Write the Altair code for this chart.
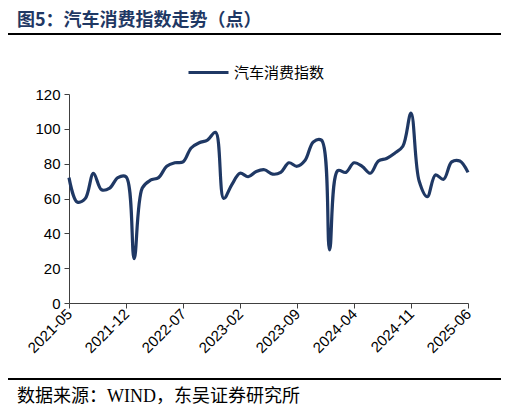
import altair as alt
import pandas as pd

# ---- data ----
all_months = [f"{y}-{m:02d}" for y in range(2021, 2026) for m in range(1, 13)]
months = all_months[all_months.index("2021-05"):all_months.index("2025-06") + 1]

values = [72, 58, 60, 74.5, 65, 66, 72, 72.5,
          25.5, 66, 70.5, 72, 78.5, 80.5, 81, 89, 92, 93.5, 98, 60,
          68, 74.5, 72.5, 75.5, 76.5, 74, 75, 80.5, 78.5, 82, 92.5, 93.5,
          30.5, 76, 75, 80.5, 78.5, 74.5, 81.5, 83, 86, 90, 109, 70,
          61, 73.5, 71, 81, 81.5, 75]

tick_labels = ["2021-05", "2021-12", "2022-07", "2023-02",
               "2023-09", "2024-04", "2024-11", "2025-06"]
y_ticks = [0, 20, 40, 60, 80, 100, 120]
series_name = "汽车消费指数"
title_text = "图5：汽车消费指数走势（点）"
source_text = "数据来源：WIND，东吴证券研究所"

df = pd.DataFrame({"month": months, "value": values, "series": series_name})

NAVY = "#1F3864"
AXIS = "#404040"
CJK = "Noto Sans CJK SC"

line = alt.Chart(df).mark_line(strokeWidth=3.2, interpolate="catmull-rom").encode(
    x=alt.X("month:O", sort=months,
            scale=alt.Scale(type="point", padding=0),
            axis=alt.Axis(values=tick_labels, labelAngle=315, labelAlign="right",
                          labelBaseline="middle", title=None, tickSize=5,
                          labelPadding=3, labelFontSize=15, labelFont="Liberation Sans",
                          labelColor="#000000", domainColor=AXIS, tickColor=AXIS,
                          labelOverlap=False)),
    y=alt.Y("value:Q", scale=alt.Scale(domain=[0, 120], nice=False),
            axis=alt.Axis(values=y_ticks, title=None, grid=False, tickSize=5,
                          labelPadding=4, labelFontSize=15, labelFont="Liberation Sans",
                          labelColor="#000000", domainColor=AXIS, tickColor=AXIS)),
    color=alt.Color("series:N", scale=alt.Scale(range=[NAVY]),
                    legend=alt.Legend(title=None, orient="none", legendX=118, legendY=-43,
                                      symbolType="stroke", symbolSize=1600,
                                      symbolStrokeWidth=3, labelFont=CJK,
                                      labelFontSize=15, labelColor="#000000",
                                      padding=0, labelOffset=4)),
)

one = pd.DataFrame({"t": [title_text], "s": [source_text]})

title = alt.Chart(one).mark_text(align="left", baseline="middle", font=CJK,
                                 fontSize=18, fontWeight="bold", color=NAVY).encode(
    text="t:N", x=alt.value(-52), y=alt.value(-73))

source = alt.Chart(one).mark_text(align="left", baseline="middle",
                                  font="Liberation Serif, Noto Sans CJK SC",
                                  fontSize=18, color="#000000").encode(
    text="s:N", x=alt.value(-52), y=alt.value(303))

top_rule = alt.Chart(one).mark_rule(color="#000000", strokeWidth=2).encode(
    x=alt.value(-64), x2=alt.value(434), y=alt.value(-60))
bottom_rule = alt.Chart(one).mark_rule(color="#000000", strokeWidth=2).encode(
    x=alt.value(-64), x2=alt.value(434), y=alt.value(285))

chart = alt.layer(line, title, source, top_rule, bottom_rule).properties(
    width=399, height=209,
    autosize=alt.AutoSizeParams(type="none"),
    padding={"left": 61, "top": 86, "right": 33, "bottom": 102},
    background="white",
).configure_view(stroke=None)

chart.save("out.html", embed_options={"renderer": "svg", "actions": False})
